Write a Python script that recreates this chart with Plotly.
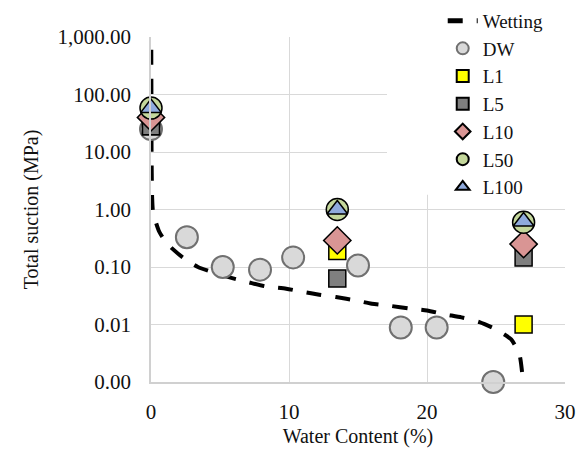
import plotly.graph_objects as go

# Wetting curve
wet_x = [0.02, 0.03, 0.04, 0.08, 0.15, 0.6, 1.2, 2.3, 3.4, 5.7, 7.1, 8.3, 9.8, 11.0, 12.2,
         13.4, 14.9, 16.0, 17.4, 18.7, 20.0, 21.3, 22.5, 23.8, 25.0, 26.1, 26.7, 26.9]
wet_y = [600, 100, 10, 1.7, 0.9, 0.41, 0.25, 0.147, 0.1, 0.066, 0.054, 0.046, 0.042, 0.037, 0.033,
         0.03, 0.026, 0.023, 0.021, 0.019, 0.0175, 0.015, 0.0133, 0.011, 0.0082, 0.0055, 0.003, 0.0014]

dw_x = [0.0, 2.6, 5.2, 7.9, 10.3, 15.0, 18.1, 20.7, 24.8]
dw_y = [25, 0.33, 0.1, 0.09, 0.147, 0.106, 0.0089, 0.0089, 0.001]

lx = [0.0, 13.5, 27.0]
l1_y = [28, 0.19, 0.01]
l5_y = [28, 0.063, 0.146]
l10_y = [40, 0.29, 0.25]
l50_y = [58, 1.0, 0.6]
l100_y = [58, 1.0, 0.62]

ytick_vals = [0.001, 0.01, 0.1, 1, 10, 100, 1000]
ytick_text = ["0.00", "0.01", "0.10", "1.00", "10.00", "100.00", "1,000.00"]
xtick_vals = [0, 10, 20, 30]

FONT = "Liberation Serif, Times New Roman, serif"

fig = go.Figure()
fig.add_trace(go.Scatter(x=wet_x, y=wet_y, mode="lines", name="Wetting",
                         line=dict(color="black", width=4, dash="15px,14px", shape="spline", smoothing=0.6)))
fig.add_trace(go.Scatter(x=dw_x, y=dw_y, mode="markers", name="DW",
                         marker=dict(symbol="circle", size=22, color="#d9d9d9",
                                     line=dict(color="#707070", width=2))))
fig.add_trace(go.Scatter(x=lx, y=l1_y, mode="markers", name="L1",
                         marker=dict(symbol="square", size=17, color="#ffff00",
                                     line=dict(color="black", width=1.5))))
fig.add_trace(go.Scatter(x=lx, y=l5_y, mode="markers", name="L5",
                         marker=dict(symbol="square", size=17, color="#7f7f7f",
                                     line=dict(color="black", width=1.5))))
fig.add_trace(go.Scatter(x=lx, y=l10_y, mode="markers", name="L10",
                         marker=dict(symbol="diamond", size=21, color="#d99594",
                                     line=dict(color="black", width=1.5))))
fig.add_trace(go.Scatter(x=lx, y=l50_y, mode="markers", name="L50",
                         marker=dict(symbol="circle", size=22, color="#c4d79b",
                                     line=dict(color="black", width=1.5))))
fig.add_trace(go.Scatter(x=lx, y=l100_y, mode="markers", name="L100",
                         marker=dict(symbol="triangle-up", size=18, color="#8faadc",
                                     line=dict(color="black", width=1.5))))
fig.update_traces(cliponaxis=False)

fig.add_shape(type="rect", xref="x", yref="y", x0=17.1, x1=30, y0=1.8, y1=1000,
              fillcolor="white", line=dict(width=0), layer="between")

fig.update_layout(
    width=581, height=451,
    margin=dict(l=151, r=16, t=37, b=69, autoexpand=False),
    paper_bgcolor="white", plot_bgcolor="white",
    font=dict(family=FONT, size=20, color="#111"),
    showlegend=True,
    legend=dict(xref="container", yref="container", x=0.762, y=0.996,
                xanchor="left", yanchor="top", bgcolor="rgba(0,0,0,0)",
                font=dict(family=FONT, size=19, color="#111"),
                itemsizing="constant", tracegroupgap=0),
)
fig.update_xaxes(range=[0, 30], tickvals=xtick_vals, showgrid=True, gridcolor="#d9d9d9",
                 gridwidth=1, showline=True, linecolor="#d0d0d0", linewidth=1.5,
                 zeroline=False, ticks="", ticklabelstandoff=10,
                 tickfont=dict(family=FONT, size=21),
                 title=dict(text="Water Content (%)", font=dict(family=FONT, size=20), standoff=6))
fig.update_yaxes(type="log", range=[-3, 3], tickvals=ytick_vals, ticktext=ytick_text,
                 showgrid=True, gridcolor="#d9d9d9", gridwidth=1, showline=True,
                 linecolor="#d0d0d0", linewidth=1.5, zeroline=False, ticks="",
                 ticklabelstandoff=14,
                 tickfont=dict(family=FONT, size=21),
                 title=dict(text="Total suction (MPa)", font=dict(family=FONT, size=20), standoff=14))

fig.write_html("out.html")
